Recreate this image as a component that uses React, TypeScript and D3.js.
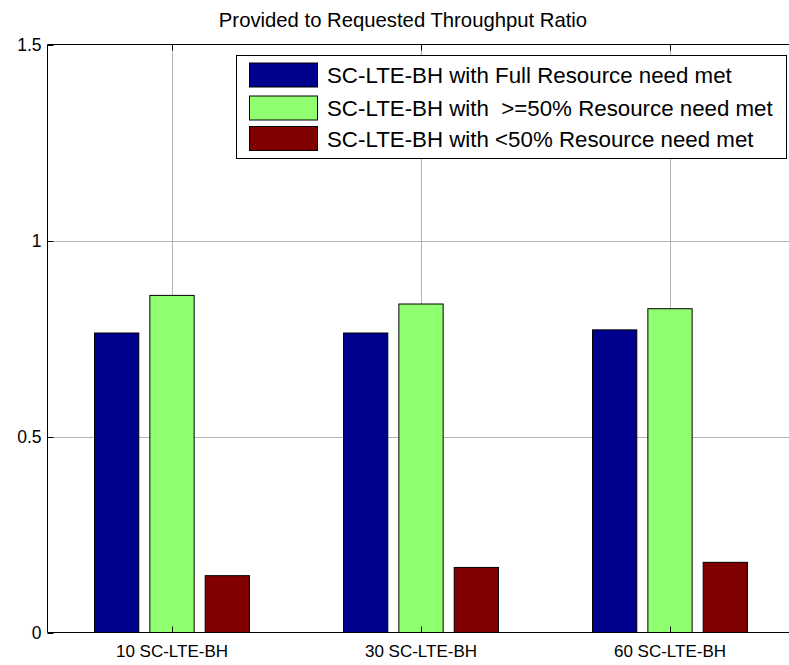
import React from "react";
import * as d3 from "d3";

// Categories, series and tick labels
const categories = ["10 SC-LTE-BH", "30 SC-LTE-BH", "60 SC-LTE-BH"];
const seriesNames = [
  "SC-LTE-BH with Full Resource need met",
  "SC-LTE-BH with  >=50% Resource need met",
  "SC-LTE-BH with <50% Resource need met",
];
const fullNeedMet = [0.764, 0.764, 0.772];
const halfNeedMet = [0.86, 0.838, 0.826];
const lowNeedMet = [0.145, 0.166, 0.179];
const seriesColors = ["#00008F", "#8FFF70", "#800000"];
const yTicks = [0, 0.5, 1, 1.5];
const yTickLabels = ["0", "0.5", "1", "1.5"];
const title = "Provided to Requested Throughput Ratio";

const W = 789;
const H = 665;
const FONT = "'Liberation Sans', Arial, Helvetica, sans-serif";

export default function App() {
  const series = [fullNeedMet, halfNeedMet, lowNeedMet];
  const left = 47.5;
  const right = 794.5;
  const top = 44.5;
  const bottom = 632.5;

  const x = d3.scaleLinear().domain([0.5, 3.5]).range([left, right]);
  const y = d3.scaleLinear().domain([0, 1.5]).range([bottom, top]);

  // grouped bar layout (three series per category)
  const groupWidth = Math.min(0.8, 3 / (3 + 1.5));
  const step = groupWidth / 3;
  const barWidth = step * 0.8;
  const offsets = series.map((_, i) => (i - 1) * step);

  const tickLen = 6;
  const legend = { x0: 236.5, y0: 55.5, x1: 786.5, y1: 158.5 };
  const rowCenters = [75, 108, 138.5];

  return (
    <svg
      width={W}
      height={H}
      style={{ position: "absolute", left: 0, top: 0, background: "#fff" }}
      fontFamily={FONT}
    >
      <rect x={0} y={0} width={W} height={H} fill="#fff" />

      {/* title */}
      <text x={403} y={27} textAnchor="middle" fontSize={20.3} fill="#000">
        {title}
      </text>

      {/* grid */}
      <g stroke="#b4b4b4" strokeWidth={1}>
        {yTicks.slice(1, 3).map((t) => (
          <line key={"gy" + t} x1={left} x2={right} y1={Math.round(y(t)) + 0.5} y2={Math.round(y(t)) + 0.5} />
        ))}
        {categories.map((_, i) => (
          <line key={"gx" + i} x1={Math.round(x(i + 1)) + 0.5} x2={Math.round(x(i + 1)) + 0.5} y1={top} y2={bottom} />
        ))}
      </g>

      {/* bars */}
      {series.map((vals, s) => (
        <g key={"s" + s}>
          {vals.map((v, i) => {
            const cx = i + 1 + offsets[s];
            const x0 = x(cx - barWidth / 2);
            const x1 = x(cx + barWidth / 2);
            return (
              <rect
                key={i}
                x={x0}
                y={y(v)}
                width={x1 - x0}
                height={y(0) - y(v)}
                fill={seriesColors[s]}
                stroke="#000"
                strokeWidth={1}
              />
            );
          })}
        </g>
      ))}

      {/* axes frame */}
      <g stroke="#000" strokeWidth={1} fill="none">
        <line x1={left} x2={right} y1={top} y2={top} />
        <line x1={left} x2={right} y1={bottom} y2={bottom} />
        <line x1={left} x2={left} y1={top} y2={bottom} />
        {yTicks.map((t) => (
          <line key={"ty" + t} x1={left} x2={left + tickLen} y1={Math.round(y(t)) + 0.5} y2={Math.round(y(t)) + 0.5} />
        ))}
        {categories.map((_, i) => (
          <g key={"tx" + i}>
            <line x1={Math.round(x(i + 1)) + 0.5} x2={Math.round(x(i + 1)) + 0.5} y1={top} y2={top + tickLen} />
            <line x1={Math.round(x(i + 1)) + 0.5} x2={Math.round(x(i + 1)) + 0.5} y1={bottom} y2={bottom - tickLen} />
          </g>
        ))}
      </g>

      {/* y tick labels */}
      {yTicks.map((t, i) => (
        <text key={"yl" + t} x={left - 6} y={y(t)} dy="0.35em" textAnchor="end" fontSize={17.5} fill="#000">
          {yTickLabels[i]}
        </text>
      ))}

      {/* x tick labels */}
      {categories.map((c, i) => (
        <text key={"xl" + i} x={x(i + 1)} y={bottom + 19} dy="0.35em" textAnchor="middle" fontSize={17} fill="#000">
          {c}
        </text>
      ))}

      {/* legend */}
      <rect
        x={legend.x0}
        y={legend.y0}
        width={legend.x1 - legend.x0}
        height={legend.y1 - legend.y0}
        fill="#fff"
        stroke="#000"
        strokeWidth={1}
      />
      {seriesNames.map((name, s) => (
        <g key={"lg" + s}>
          <rect
            x={249.5}
            y={rowCenters[s] - 12}
            width={68}
            height={24}
            fill={seriesColors[s]}
            stroke="#000"
            strokeWidth={1}
          />
          <text
            x={327}
            y={rowCenters[s]}
            dy="0.36em"
            fontSize={22.3}
            fill="#000"
            xmlSpace="preserve"
            style={{ whiteSpace: "pre" }}
          >
            {name}
          </text>
        </g>
      ))}
    </svg>
  );
}
